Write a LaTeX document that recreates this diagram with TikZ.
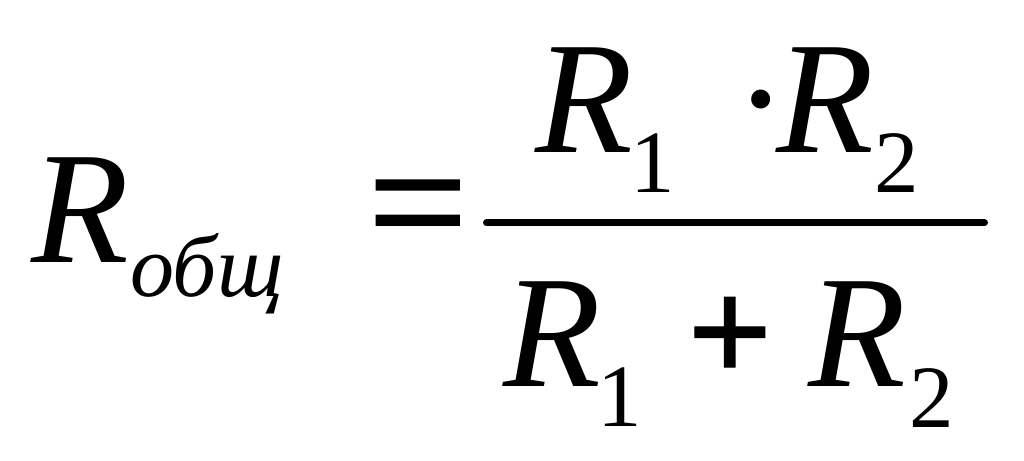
\documentclass[tikz,border=0pt]{standalone}
\usepackage{fontspec}
\setmainfont{Liberation Serif}
\newfontfamily\eqfont[FakeBold=1.4]{Liberation Serif}
\newfontfamily\plusfont[FakeBold=0.8]{Liberation Serif Bold}
\begin{document}
\begin{tikzpicture}[x=1pt,y=1pt,
  glyph/.style={inner sep=0pt, outer sep=0pt, anchor=base west},
  bigvar/.style={glyph, font=\fontsize{160}{160}\selectfont\itshape},
  subvar/.style={glyph, font=\fontsize{88}{88}\selectfont\itshape},
  subnum/.style={glyph, font=\fontsize{89}{89}\selectfont},
  dotop/.style={glyph, font=\fontsize{160}{160}\selectfont},
  eqop/.style={glyph, font=\eqfont\fontsize{176}{176}\selectfont},
  plusop/.style={glyph, font=\plusfont\fontsize{150}{150}\selectfont},
  fracbar/.style={line width=7pt, line cap=round}
]
\useasboundingbox (0,0) rectangle (1024,460);
% left side
\node[bigvar] (R) at (31,197) {R};
\node[subvar] (Rsub) at (130,163) {общ};
\node[eqop] (eq) at (368,199) {=};
% numerator
\node[bigvar] (nR1) at (535,307) {R};
\node[subnum] (n1) at (630,267) {1};
\node[dotop] (ndot) at (734,307) {·};
\node[bigvar] (nR2) at (776,307) {R};
\node[subnum] (n2) at (874,267) {2};
% fraction bar
\coordinate (barL) at (486.5,237);
\coordinate (barR) at (984.5,237);
\draw[fracbar] (barL) -- (barR);
% denominator
\node[bigvar] (dR1) at (503,73) {R};
\node[subnum] (d1) at (597,34) {1};
\node[plusop] (plus) at (687,78) {+};
\node[bigvar] (dR2) at (808,73) {R};
\node[subnum] (d2) at (909,33) {2};
\end{tikzpicture}
\end{document}
